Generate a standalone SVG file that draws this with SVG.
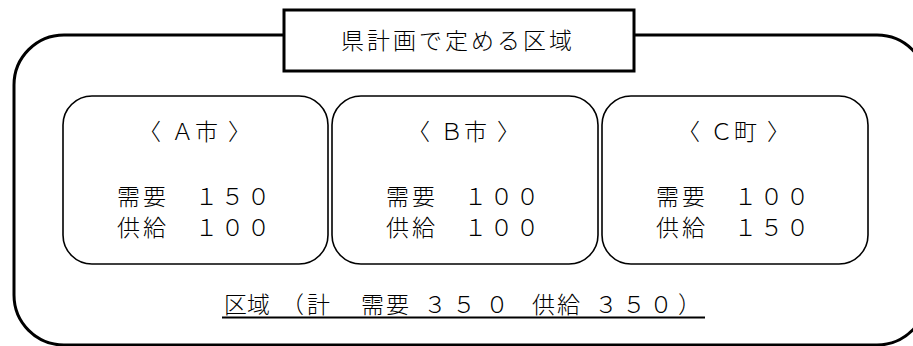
<svg xmlns="http://www.w3.org/2000/svg" width="913" height="346" viewBox="0 0 913 346">
<style>
  .t { font-family: "Noto Sans CJK JP", "Noto Sans CJK SC", sans-serif; font-size: 23px; font-weight: 300; fill: #000; }
  .ls { letter-spacing: 3px; }
  .outer { fill: #fff; stroke: #000; stroke-width: 3; }
  .box { fill: #fff; stroke: #000; stroke-width: 1.6; }
  .title { fill: #fff; stroke: #000; stroke-width: 3; }
</style>
<rect width="913" height="346" fill="#fff"/>
<g id="region">
  <rect class="outer" x="14" y="35" width="913" height="310" rx="50" ry="50"/>
</g>
<g id="title">
  <rect class="title" x="284" y="10" width="350" height="61"/>
  <text class="t ls" x="341" y="49">県計画で定める区域</text>
</g>
<g id="cityA">
  <rect class="box" x="63" y="96" width="265" height="168" rx="29" ry="29"/>
  <text class="t" x="138 171 195 228" y="140">〈Ａ市〉</text>
  <text class="t ls" x="117" y="205">需要　１５０</text>
  <text class="t ls" x="117" y="236">供給　１００</text>
</g>
<g id="cityB">
  <rect class="box" x="332" y="96" width="266" height="168" rx="29" ry="29"/>
  <text class="t" x="407 440 464 497" y="140">〈Ｂ市〉</text>
  <text class="t ls" x="386" y="205">需要　１００</text>
  <text class="t ls" x="386" y="236">供給　１００</text>
</g>
<g id="townC">
  <rect class="box" x="602" y="96" width="266" height="168" rx="29" ry="29"/>
  <text class="t" x="677 710 734 767" y="140">〈Ｃ町〉</text>
  <text class="t ls" x="656" y="205">需要　１００</text>
  <text class="t ls" x="656" y="236">供給　１５０</text>
</g>
<g id="total">
  <text class="t" x="224 247 281 307 331 361 386 423.5 452.5 485.5 510 532 557 594.5 622.5 649.5 678" y="313">区域（計　需要３５０　供給３５０）</text>
  <line x1="222" y1="317.5" x2="705" y2="317.5" stroke="#000" stroke-width="2"/>
</g>
<g id="connectors"/>
</svg>
